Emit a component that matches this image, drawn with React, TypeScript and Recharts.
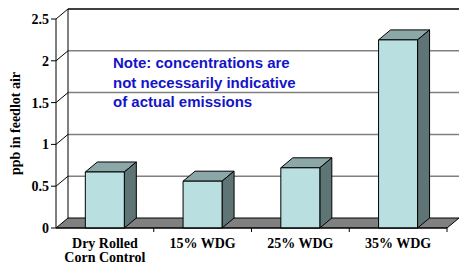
import { BarChart, Bar, XAxis, YAxis, CartesianGrid } from 'recharts';

const categories = ['Dry Rolled\nCorn Control', '15% WDG', '25% WDG', '35% WDG'];
const concentrations = [0.67, 0.56, 0.72, 2.25];
const yTicks = [0, 0.5, 1, 1.5, 2, 2.5];
const noteLines = ['Note: concentrations are', 'not necessarily indicative', 'of actual emissions'];

const data = categories.map((name, i) => ({ name, value: concentrations[i] }));

// depth offset of the fake 3D look
const DX = 12;
const DY = -10;
const SERIF = '"Liberation Serif", "Times New Roman", serif';

const GridLine = (props: any) => {
  const { x1, y1, x2, y, height } = props;
  const bottom = y + height;
  if (Math.abs(y1 - bottom) < 0.5) {
    // floor
    return (
      <polygon
        points={`${x1},${y1} ${x2},${y1} ${x2 + DX},${y1 + DY} ${x1 + DX},${y1 + DY}`}
        fill="#808080"
        stroke="#000"
        strokeWidth={1}
      />
    );
  }
  const isTop = Math.abs(y1 - y) < 0.5;
  return (
    <g>
      <line x1={x1 + DX} y1={y1 + DY} x2={x2 + DX} y2={y1 + DY} stroke={isTop ? '#000' : '#808080'} strokeWidth={isTop ? 1.3 : 1.5} />
      <line x1={x1} y1={y1} x2={x1 + DX} y2={y1 + DY} stroke="#000" strokeWidth={1} />
      {isTop && <line x1={x1 + DX} y1={y1 + DY} x2={x1 + DX} y2={bottom + DY} stroke="#000" strokeWidth={1} />}
    </g>
  );
};

const Box = (props: any) => {
  const { x, y, width: w, height: h } = props;
  return (
    <g stroke="#000" strokeWidth={1} strokeLinejoin="round">
      <polygon points={`${x},${y} ${x + DX},${y + DY} ${x + w + DX},${y + DY} ${x + w},${y}`} fill="#8ba7a7" />
      <polygon points={`${x + w},${y} ${x + w + DX},${y + DY} ${x + w + DX},${y + h + DY} ${x + w},${y + h}`} fill="#5f7575" />
      <rect x={x} y={y} width={w} height={h} fill="#b9dfe1" />
    </g>
  );
};

const CategoryTick = (props: any) => {
  const { x, y, payload } = props;
  const lines = String(payload.value).split('\n');
  const edge = x + (payload.offset || 0);
  return (
    <g>
      <line x1={edge} y1={y - 4} x2={edge} y2={y} stroke="#000" strokeWidth={1} />
      <text textAnchor="middle" fontFamily={SERIF} fontWeight="bold" fontSize={14} fill="#000">
        {lines.map((l, i) => (
          <tspan key={i} x={x} y={y + 16 + i * 14}>
            {l}
          </tspan>
        ))}
      </text>
    </g>
  );
};

const ValueTick = (props: any) => {
  const { x, y, payload } = props;
  return (
    <text x={x} y={y} dy={5} textAnchor="end" fontFamily={SERIF} fontWeight="bold" fontSize={14} fill="#000">
      {payload.value}
    </text>
  );
};

const YLabel = (props: any) => {
  const { viewBox } = props;
  const cx = viewBox.x + 20;
  const cy = viewBox.y + viewBox.height / 2;
  return (
    <text
      x={cx}
      y={cy}
      transform={`rotate(-90 ${cx} ${cy})`}
      textAnchor="middle"
      fontFamily={SERIF}
      fontWeight="bold"
      fontSize={14}
      fill="#000"
    >
      ppb in feedlot air
    </text>
  );
};

export default function App() {
  return (
    <div style={{ position: 'absolute', left: 0, top: 0, width: 459, height: 265, background: '#fff' }}>
      <BarChart width={459} height={265} data={data} margin={{ top: 19, right: 12, bottom: 0, left: 0 }} barCategoryGap="30%">
        <CartesianGrid vertical={false} horizontal={GridLine} />
        <XAxis
          dataKey="name"
          height={37}
          axisLine={{ stroke: '#000' }}
          tickLine={false}
          tickSize={4}
          tickMargin={0}
          interval={0}
          tick={CategoryTick}
        />
        <YAxis
          width={56}
          domain={[0, 2.5]}
          ticks={yTicks}
          axisLine={{ stroke: '#000' }}
          tickLine={{ stroke: '#000' }}
          tickSize={5}
          tickMargin={2}
          tick={ValueTick}
          label={<YLabel />}
        />
        <Bar dataKey="value" shape={Box} isAnimationActive={false} />
      </BarChart>
      <div
        style={{
          position: 'absolute',
          left: 113,
          top: 53,
          color: '#1414c8',
          fontFamily: '"Liberation Sans", Arial, sans-serif',
          fontWeight: 'bold',
          fontSize: 15,
          lineHeight: '19.5px',
          whiteSpace: 'nowrap',
        }}
      >
        {noteLines.map((l) => (
          <div key={l}>{l}</div>
        ))}
      </div>
    </div>
  );
}
